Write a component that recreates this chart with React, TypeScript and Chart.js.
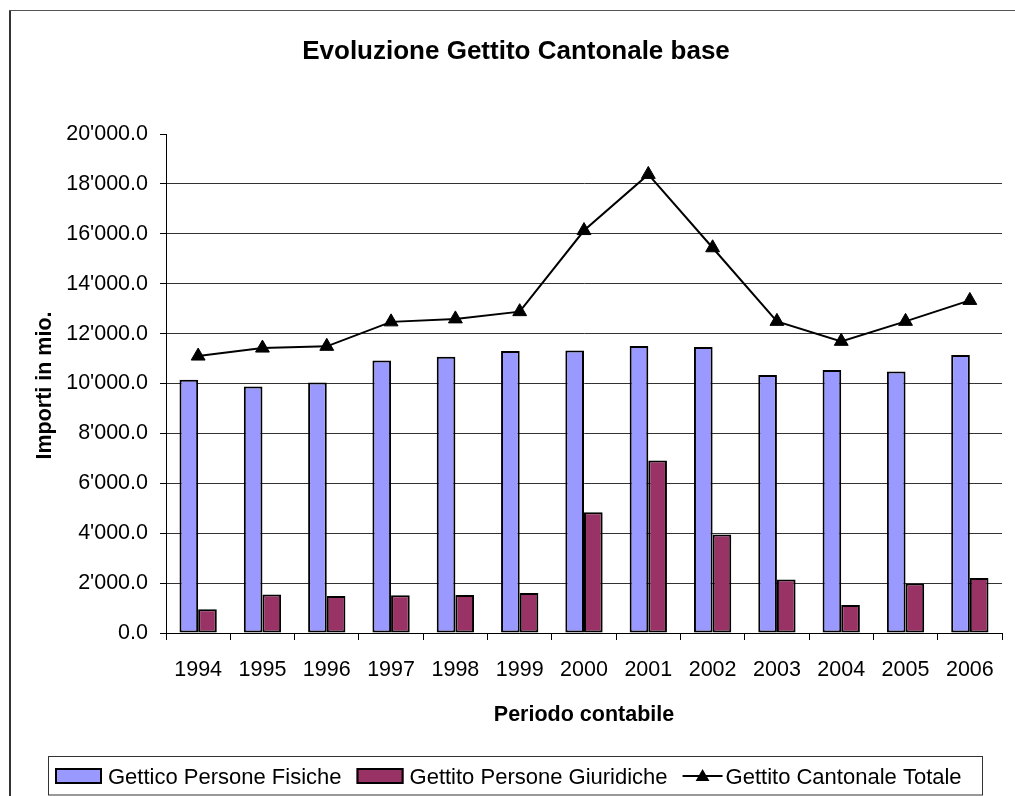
import React, { useEffect, useRef } from 'react';
import { Chart, registerables } from 'chart.js';

Chart.register(...registerables);

// ---------- data ----------
const categories = ['1994', '1995', '1996', '1997', '1998', '1999', '2000', '2001', '2002', '2003', '2004', '2005', '2006'];
const fisiche = [10150, 9880, 10040, 10920, 11070, 11300, 11320, 11500, 11460, 10340, 10540, 10480, 11140];
const giuridiche = [950, 1540, 1480, 1515, 1525, 1605, 4835, 6910, 3950, 2145, 1125, 1985, 2200];
const totale = [11100, 11420, 11490, 12470, 12590, 12880, 16130, 18380, 15440, 12490, 11690, 12490, 13330];
const seriesLabels = ['Gettico Persone Fisiche', 'Gettito Persone Giuridiche', 'Gettito Cantonale Totale'];
const yMin = 0;
const yMax = 20000;
const yStep = 2000;
const chartTitle = 'Evoluzione Gettito Cantonale base';
const yTitle = 'Importi in mio.';
const xTitle = 'Periodo contabile';

const FONT = "'Liberation Sans', Arial, Helvetica, sans-serif";
const MARKER_R = 8;

function fmt(v: number): string {
  const [i, d] = v.toFixed(1).split('.');
  return i.replace(/\B(?=(\d{3})+(?!\d))/g, "'") + '.' + d;
}

const decorPlugin = {
  id: 'decor',
  afterDraw(chart: any) {
    const ctx: CanvasRenderingContext2D = chart.ctx;
    const ca = chart.chartArea;
    const W = chart.width;
    const H = chart.height;
    ctx.save();

    // outer frame (cut at right / bottom)
    ctx.strokeStyle = '#333';
    ctx.lineWidth = 2;
    ctx.beginPath();
    ctx.moveTo(10, H);
    ctx.lineTo(10, 10);
    ctx.stroke();
    ctx.lineWidth = 1;
    ctx.strokeStyle = '#555';
    ctx.beginPath();
    ctx.moveTo(9, 10.5);
    ctx.lineTo(W, 10.5);
    ctx.stroke();

    ctx.fillStyle = '#000';
    // title
    ctx.font = `bold 26px ${FONT}`;
    ctx.textAlign = 'center';
    ctx.textBaseline = 'alphabetic';
    ctx.fillText(chartTitle, 516, 59);

    // x title
    ctx.font = `bold 21.5px ${FONT}`;
    ctx.fillText(xTitle, (ca.left + ca.right) / 2, 721);

    // y title
    ctx.save();
    ctx.translate(50.5, 385.5);
    ctx.rotate(-Math.PI / 2);
    ctx.fillText(yTitle, 0, 0);
    ctx.restore();

    // legend box
    ctx.strokeStyle = '#333';
    ctx.lineWidth = 1;
    ctx.strokeRect(48.5, 756.5, 934, 38.5);

    ctx.font = `22px ${FONT}`;
    ctx.textAlign = 'left';
    let x = 55;
    const midY = 776;
    const baseY = 784;
    chart.data.datasets.forEach((ds: any) => {
      if (ds.type === 'bar') {
        ctx.fillStyle = ds.backgroundColor;
        ctx.fillRect(x, midY - 8, 47, 16);
        ctx.strokeStyle = '#000';
        ctx.lineWidth = 2;
        ctx.strokeRect(x + 1, midY - 7, 45, 14);
        ctx.fillStyle = '#000';
        ctx.fillText(ds.label, x + 53, baseY);
        x = x + 53 + ctx.measureText(ds.label).width + 15;
      } else {
        ctx.strokeStyle = ds.borderColor;
        ctx.lineWidth = 2;
        ctx.beginPath();
        ctx.moveTo(x, midY);
        ctx.lineTo(x + 40, midY);
        ctx.stroke();
        const r = MARKER_R;
        const cx = x + 20;
        const cy = midY + 1;
        ctx.fillStyle = '#000';
        ctx.beginPath();
        let rad = 0;
        ctx.moveTo(cx + Math.sin(rad) * r, cy - Math.cos(rad) * r);
        rad += (2 * Math.PI) / 3;
        ctx.lineTo(cx + Math.sin(rad) * r, cy - Math.cos(rad) * r);
        rad += (2 * Math.PI) / 3;
        ctx.lineTo(cx + Math.sin(rad) * r, cy - Math.cos(rad) * r);
        ctx.closePath();
        ctx.fill();
        ctx.fillText(ds.label, x + 43, baseY);
        x = x + 43 + ctx.measureText(ds.label).width + 15;
      }
    });

    ctx.restore();
  },
};

export default function App() {
  const canvasRef = useRef<HTMLCanvasElement | null>(null);

  useEffect(() => {
    if (!canvasRef.current) return;
    Chart.defaults.color = '#000';
    const chart = new Chart(canvasRef.current, {
      type: 'bar',
      data: {
        labels: categories,
        datasets: [
          {
            type: 'bar',
            label: seriesLabels[0],
            data: fisiche,
            backgroundColor: '#9999FF',
            borderColor: '#000',
            borderWidth: 2,
            borderSkipped: false,
            categoryPercentage: 0.58,
            barPercentage: 1,
            order: 2,
          },
          {
            type: 'bar',
            label: seriesLabels[1],
            data: giuridiche,
            backgroundColor: '#993366',
            borderColor: '#000',
            borderWidth: 2,
            borderSkipped: false,
            categoryPercentage: 0.58,
            barPercentage: 1,
            order: 2,
          },
          {
            type: 'line',
            label: seriesLabels[2],
            data: totale,
            borderColor: '#000',
            backgroundColor: '#000',
            borderWidth: 2,
            tension: 0,
            fill: false,
            pointStyle: 'triangle',
            pointRadius: MARKER_R,
            pointBackgroundColor: '#000',
            pointBorderColor: '#000',
            pointBorderWidth: 1,
            order: 1,
          },
        ] as any,
      },
      options: {
        responsive: false,
        animation: false,
        devicePixelRatio: 1,
        layout: { padding: { top: 134, left: 0, right: 13, bottom: 0 } },
        plugins: {
          legend: { display: false },
          title: { display: false },
          tooltip: { enabled: false },
        },
        scales: {
          x: {
            type: 'category',
            offset: true,
            grid: {
              offset: true,
              drawOnChartArea: false,
              drawTicks: true,
              tickLength: 7,
              tickColor: '#000',
            },
            border: { display: true, color: '#000', width: 1 },
            ticks: {
              font: { family: FONT, size: 21.5 },
              color: '#000',
              padding: 17,
              maxRotation: 0,
              autoSkip: false,
            },
            afterFit: (scale: any) => {
              scale.height = 163;
            },
          },
          y: {
            min: yMin,
            max: yMax,
            grid: {
              color: (c: any) => (c.tick && c.tick.value === yMax ? 'rgba(0,0,0,0)' : '#333'),
              lineWidth: 1,
              drawTicks: true,
              tickLength: 6,
              tickColor: '#000',
            },
            border: { display: true, color: '#000', width: 1 },
            ticks: {
              stepSize: yStep,
              font: { family: FONT, size: 21.5 },
              color: '#000',
              padding: 12,
              callback: (v: any) => fmt(Number(v)),
            },
            afterFit: (scale: any) => {
              scale.width = 166;
            },
          },
        },
      } as any,
      plugins: [decorPlugin],
    });
    return () => chart.destroy();
  }, []);

  return (
    <div style={{ position: 'absolute', left: 0, top: 0, width: 1015, height: 796, background: '#fff' }}>
      <canvas ref={canvasRef} width={1015} height={796} style={{ display: 'block', width: 1015, height: 796 }} />
    </div>
  );
}
